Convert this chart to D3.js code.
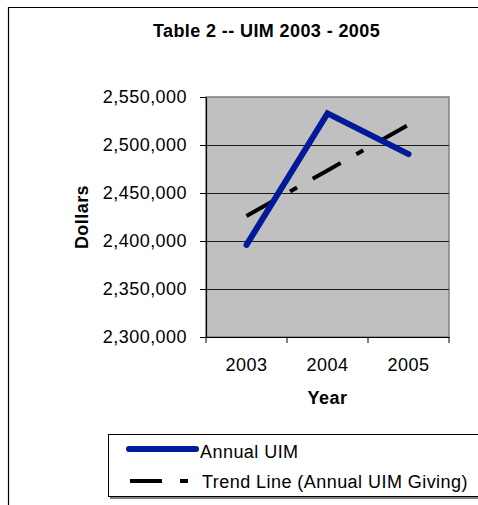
<!DOCTYPE html>
<html>
<head>
<meta charset="utf-8">
<script src="https://cdn.jsdelivr.net/npm/d3@7/dist/d3.min.js"></script>
<style>
  html, body { margin: 0; padding: 0; background: #fff; }
  svg { display: block; }
  text { font-family: Arial, "Liberation Sans", sans-serif; fill: #000; }
</style>
</head>
<body>
<svg id="chart" width="478" height="505"></svg>
<script>
// ---- data ----
const years = ["2003", "2004", "2005"];
const annualUIM = [2396000, 2533000, 2490500];
const trendValues = [2426000, 2473500, 2521000];
const yTicks = [2300000, 2350000, 2400000, 2450000, 2500000, 2550000];
const titleText = "Table 2 -- UIM 2003 - 2005";
const xTitle = "Year";
const yTitle = "Dollars";
const legendLabels = ["Annual UIM", "Trend Line (Annual UIM Giving)"];

const svg = d3.select("#chart");
const W = 478, H = 505;
const plot = { left: 206, right: 449, top: 97, bottom: 337 };
const FS = "18px", LS = "0.45px";

// outer chart border (left + top visible)
svg.append("path")
  .attr("d", `M8.5,${H + 5} L8.5,7.5 L${W + 5},7.5`)
  .attr("fill", "none").attr("stroke", "#000").attr("stroke-width", 1.2);

// scales
const x = d3.scaleBand().domain(years).range([plot.left, plot.right]).padding(0);
const y = d3.scaleLinear().domain([yTicks[0], yTicks[yTicks.length - 1]]).range([plot.bottom, plot.top]);

// plot area
svg.append("rect")
  .attr("x", plot.left).attr("y", plot.top)
  .attr("width", plot.right - plot.left).attr("height", plot.bottom - plot.top)
  .attr("fill", "#c0c0c0").attr("stroke", "#808080").attr("stroke-width", 1.5);

// gridlines
svg.append("g").selectAll("line")
  .data(yTicks.slice(1, -1))
  .join("line")
  .attr("x1", plot.left).attr("x2", plot.right)
  .attr("y1", d => Math.round(y(d)) + 0.5).attr("y2", d => Math.round(y(d)) + 0.5)
  .attr("stroke", "#1a1a1a").attr("stroke-width", 1);

// y axis
const yAxis = svg.append("g")
  .attr("transform", `translate(${plot.left},0)`)
  .call(d3.axisLeft(y).tickValues(yTicks).tickFormat(d3.format(",")).tickSize(6).tickSizeOuter(0).tickPadding(13));
yAxis.select(".domain").attr("stroke", "#000").attr("stroke-width", 1.2);
yAxis.selectAll(".tick line").attr("stroke", "#000");
yAxis.selectAll(".tick text")
  .attr("font-size", FS).attr("letter-spacing", LS)
  .attr("font-family", "Arial, 'Liberation Sans', sans-serif").attr("fill", "#000");

// x axis (labels at centers, tick marks at category boundaries)
const xAxis = svg.append("g")
  .attr("transform", `translate(0,${plot.bottom})`)
  .call(d3.axisBottom(x).tickSize(0).tickSizeOuter(0).tickPadding(21));
xAxis.select(".domain").attr("stroke", "#000").attr("stroke-width", 1.2);
xAxis.selectAll(".tick text")
  .attr("font-size", FS).attr("letter-spacing", LS)
  .attr("font-family", "Arial, 'Liberation Sans', sans-serif").attr("fill", "#000");
const boundaries = years.map(d => x(d)).concat([x(years[years.length - 1]) + x.bandwidth()]);
xAxis.selectAll("line.bound")
  .data(boundaries)
  .join("line").attr("class", "bound")
  .attr("x1", d => d).attr("x2", d => d)
  .attr("y1", 0).attr("y2", 6)
  .attr("stroke", "#000");

const cx = d => x(d) + x.bandwidth() / 2;

// trend line
svg.append("path")
  .datum(years.map((d, i) => [cx(d), y(trendValues[i])]))
  .attr("d", d3.line())
  .attr("fill", "none").attr("stroke", "#000").attr("stroke-width", 4)
  .attr("stroke-dasharray", "32,18,8,18");

// annual UIM line
svg.append("path")
  .datum(years.map((d, i) => [cx(d), y(annualUIM[i])]))
  .attr("d", d3.line())
  .attr("fill", "none").attr("stroke", "#001a99").attr("stroke-width", 6)
  .attr("stroke-linecap", "round").attr("stroke-linejoin", "miter");

// title
svg.append("text")
  .attr("x", 266.5).attr("y", 37)
  .attr("text-anchor", "middle")
  .attr("font-size", FS).attr("font-weight", "bold").attr("letter-spacing", "0.4px")
  .text(titleText);

// axis titles
svg.append("text")
  .attr("x", (plot.left + plot.right) / 2).attr("y", 404)
  .attr("text-anchor", "middle")
  .attr("font-size", FS).attr("font-weight", "bold").attr("letter-spacing", LS)
  .text(xTitle);
svg.append("text")
  .attr("transform", `translate(88,${(plot.top + plot.bottom) / 2}) rotate(-90)`)
  .attr("text-anchor", "middle")
  .attr("font-size", FS).attr("font-weight", "bold").attr("letter-spacing", LS)
  .text(yTitle);

// legend
const lg = svg.append("g");
lg.append("rect")
  .attr("x", 110).attr("y", 436).attr("width", 400).attr("height", 63)
  .attr("fill", "#808080");
lg.append("rect")
  .attr("x", 108.5).attr("y", 434.5).attr("width", 400).attr("height", 62)
  .attr("fill", "#fff").attr("stroke", "#000").attr("stroke-width", 1);
lg.append("line")
  .attr("x1", 129).attr("x2", 196).attr("y1", 449).attr("y2", 449)
  .attr("stroke", "#001a99").attr("stroke-width", 6).attr("stroke-linecap", "round");
lg.append("line")
  .attr("x1", 130).attr("x2", 188).attr("y1", 481).attr("y2", 481)
  .attr("stroke", "#000").attr("stroke-width", 4).attr("stroke-dasharray", "32,18,8,18");
lg.selectAll("text.leg")
  .data(legendLabels)
  .join("text").attr("class", "leg")
  .attr("x", (d, i) => i === 0 ? 200 : 202)
  .attr("y", (d, i) => i === 0 ? 458 : 488)
  .attr("font-size", FS).attr("letter-spacing", LS)
  .text(d => d);
</script>
</body>
</html>
